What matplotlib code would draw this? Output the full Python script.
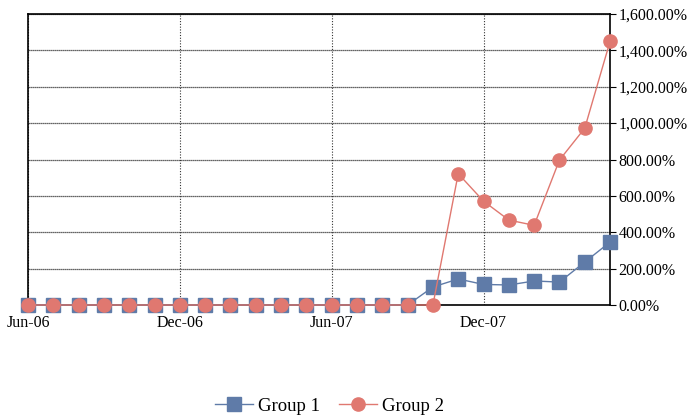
import matplotlib as mpl
import matplotlib.pyplot as plt
import numpy as np
from matplotlib.ticker import FuncFormatter

mpl.rcParams.update({
    "font.family": ["Liberation Serif", "DejaVu Serif"],
    "font.size": 11.5,
})

months = ["Jun-06", "Jul-06", "Aug-06", "Sep-06", "Oct-06", "Nov-06",
          "Dec-06", "Jan-07", "Feb-07", "Mar-07", "Apr-07", "May-07",
          "Jun-07", "Jul-07", "Aug-07", "Sep-07", "Oct-07", "Nov-07",
          "Dec-07", "Jan-08", "Feb-08", "Mar-08", "Apr-08", "May-08"]
group1 = [0, 0, 0, 0, 0, 0, 0, 0, 0, 0, 0, 0, 0, 0, 0, 0,
          99, 143, 113, 110, 132, 126, 236, 346]
group2 = [0, 0, 0, 0, 0, 0, 0, 0, 0, 0, 0, 0, 0, 0, 0, 0,
          0, 722, 571, 467, 438, 797, 972, 1450]
label_months = ["Jun-06", "Dec-06", "Jun-07", "Dec-07"]

x = np.arange(len(months))

fig = plt.figure(figsize=(6.87, 4.17), dpi=100)
ax = fig.add_axes([0.0408, 0.2686, 0.8472, 0.6978])

ax.plot(x, group1, color="#5F7BA8", linewidth=1.0, marker="s", markersize=9.5,
        label="Group 1", zorder=3, clip_on=False)
ax.plot(x, group2, color="#E07870", linewidth=1.0, marker="o", markersize=9.5,
        label="Group 2", zorder=4, clip_on=False)

ax.set_xlim(0, len(months) - 1)
ax.set_ylim(0, 1600)
ax.set_yticks(np.arange(0, 1601, 200))
ax.yaxis.set_major_formatter(FuncFormatter(lambda v, p: f"{v:,.2f}%"))
ax.yaxis.tick_right()
ax.tick_params(axis="y", length=4, width=0.8, pad=2, labelsize=11.5)

ticks = [months.index(m) for m in label_months]
ax.set_xticks(ticks)
ax.set_xticklabels(label_months)
ax.tick_params(axis="x", length=0, pad=7, labelsize=11.5)

for s in ax.spines.values():
    s.set_linewidth(1.2)
    s.set_color("black")

ax.grid(axis="y", color="#333333", linewidth=0.9, linestyle=(0, (1, 0.6)))
ax.grid(axis="x", color="#333333", linewidth=0.8, linestyle=(0, (1, 1.5)))
ax.set_axisbelow(True)

fig.legend(loc="lower center", bbox_to_anchor=(0.48, -0.035), ncol=2,
           frameon=False, fontsize=13.5, handlelength=2.0, columnspacing=1.0,
           handletextpad=0.3)

fig.savefig("out.png", dpi=100)
